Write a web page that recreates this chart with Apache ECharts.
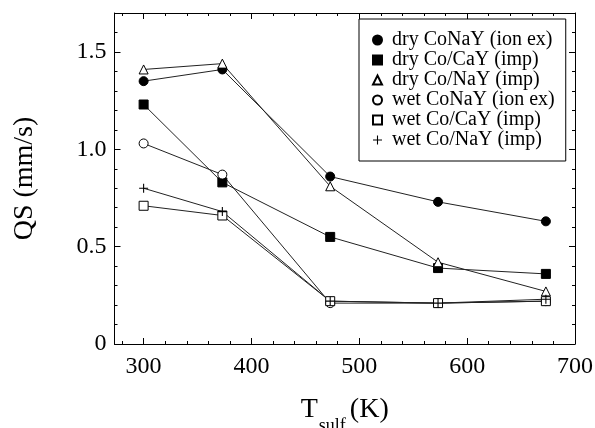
<!DOCTYPE html>
<html>
<head>
<meta charset="utf-8">
<script src="https://cdn.jsdelivr.net/npm/echarts@6/dist/echarts.min.js"></script>
<style>
html,body{margin:0;padding:0;background:#fff;}
#chart{width:595px;height:428px;}
</style>
</head>
<body>
<div id="chart"></div>
<script>
// Data
var temps = [300, 373, 473, 573, 673];
var dryCoNaYion = [1.35, 1.41, 0.86, 0.73, 0.63];
var dryCoCaYimp = [1.23, 0.83, 0.55, 0.39, 0.36];
var dryCoNaYimp = [1.41, 1.44, 0.81, 0.42, 0.27];
var wetCoNaYion = [1.03, 0.87, 0.21, 0.21, 0.22];
var wetCoCaYimp = [0.71, 0.66, 0.22, 0.21, 0.22];
var wetCoNaYimp = [0.80, 0.68, 0.22, 0.21, 0.23];
var seriesNames = ['dry CoNaY (ion ex)', 'dry Co/CaY (imp)', 'dry Co/NaY (imp)', 'wet CoNaY (ion ex)', 'wet Co/CaY (imp)', 'wet Co/NaY (imp)'];
var xTickLabels = [300, 400, 500, 600, 700];
var xMinorTicks = [280, 300, 320, 340, 360, 380, 400, 420, 440, 460, 480, 500, 520, 540, 560, 580, 600, 620, 640, 660, 680, 700];
var yTickLabels = [0, 0.5, 1.0, 1.5];
var yMinorTicks = [0.1, 0.2, 0.3, 0.4, 0.6, 0.7, 0.8, 0.9, 1.1, 1.2, 1.3, 1.4, 1.6];

var FONT = 'Liberation Serif';
var plusPath = 'path://M4.4,0H5.6V4.4H10V5.6H5.6V10H4.4V5.6H0V4.4H4.4Z';

var chart = echarts.init(document.getElementById('chart'), null, {renderer: 'canvas'});

var X_MIN = 273, X_MAX = 700, Y_MIN = 0, Y_MAX = 1.7;

function xAxisDef(pos, major, showLabel, showLine, name) {
  var a = {
    type: 'value', position: pos, min: X_MIN, max: X_MAX,
    axisLine: {show: showLine, onZero: false, lineStyle: {color: '#000', width: 1}},
    axisTick: {show: true, inside: true, length: major ? 6 : 3, customValues: major ? xTickLabels : xMinorTicks, lineStyle: {color: '#000', width: 1}},
    axisLabel: {show: showLabel, customValues: xTickLabels, fontFamily: FONT, fontSize: 24, color: '#000', margin: 11},
    splitLine: {show: false}
  };
  if (name) {
    a.name = '{t|T}{s|sulf}{t|(K)}';
    a.nameLocation = 'middle';
    a.nameGap = 50;
    a.nameTextStyle = {
      color: '#000', fontFamily: FONT,
      rich: {
        t: {fontFamily: FONT, fontSize: 28, color: '#000', verticalAlign: 'bottom', lineHeight: 30},
        s: {fontFamily: FONT, fontSize: 18, color: '#000', verticalAlign: 'bottom', lineHeight: 30, padding: [0, 4, -11, 1]}
      }
    };
  }
  return a;
}
function yAxisDef(pos, major, showLabel, showLine, name) {
  var a = {
    type: 'value', position: pos, min: Y_MIN, max: Y_MAX,
    axisLine: {show: showLine, onZero: false, lineStyle: {color: '#000', width: 1}},
    axisTick: {show: true, inside: true, length: major ? 6 : 3, customValues: major ? yTickLabels : yMinorTicks, lineStyle: {color: '#000', width: 1}},
    axisLabel: {show: showLabel, customValues: yTickLabels, fontFamily: FONT, fontSize: 24, color: '#000', margin: 8,
      formatter: function (v) { return v === 0 ? '0' : v.toFixed(1); }},
    splitLine: {show: false}
  };
  if (name) {
    a.name = 'QS (mm/s)';
    a.nameLocation = 'middle';
    a.nameGap = 76;
    a.nameRotate = 90;
    a.nameTextStyle = {fontFamily: FONT, fontSize: 28, color: '#000'};
  }
  return a;
}

function mkSeries(name, data, symbol, filled, size) {
  return {
    name: name, type: 'line', xAxisIndex: 0, yAxisIndex: 0,
    data: temps.map(function (t, i) { return [t, data[i]]; }),
    symbol: symbol, symbolSize: size, showSymbol: true,
    lineStyle: {color: '#222', width: 1},
    itemStyle: filled ? {color: '#000', borderColor: '#000', borderWidth: 1} : {color: '#fff', borderColor: '#000', borderWidth: 1},
    emphasis: {disabled: true},
    animation: false,
    z: 3
  };
}

var option = {
  backgroundColor: '#fff',
  animation: false,
  textStyle: {fontFamily: FONT, color: '#000'},
  grid: {left: 114.5, right: 20, top: 13, bottom: 84, containLabel: false, outerBoundsMode: 'none'},
  xAxis: [
    xAxisDef('bottom', true, true, true, true),
    xAxisDef('bottom', false, false, false, false),
    xAxisDef('top', true, false, true, false),
    xAxisDef('top', false, false, false, false)
  ],
  yAxis: [
    yAxisDef('left', true, true, true, true),
    yAxisDef('left', false, false, false, false),
    yAxisDef('right', true, false, true, false),
    yAxisDef('right', false, false, false, false)
  ],
  legend: {
    orient: 'vertical', left: 359, top: 19,
    padding: [11, 11, 11, 13],
    itemGap: 0, itemWidth: 9, itemHeight: 9,
    borderColor: '#000', borderWidth: 1, backgroundColor: '#fff',
    textStyle: {fontFamily: FONT, fontSize: 20, color: '#000', lineHeight: 20, padding: [0, 0, 0, 5]},
    selectedMode: false,
    data: [
      {name: seriesNames[0], icon: 'circle'},
      {name: seriesNames[1], icon: 'rect'},
      {name: seriesNames[2], icon: 'triangle'},
      {name: seriesNames[3], icon: 'circle'},
      {name: seriesNames[4], icon: 'rect'},
      {name: seriesNames[5], icon: plusPath}
    ]
  },
  series: [
    mkSeries(seriesNames[0], dryCoNaYion, 'circle', true, 9),
    mkSeries(seriesNames[1], dryCoCaYimp, 'rect', true, 9),
    mkSeries(seriesNames[2], dryCoNaYimp, 'triangle', false, 9),
    mkSeries(seriesNames[3], wetCoNaYion, 'circle', false, 9),
    mkSeries(seriesNames[4], wetCoCaYimp, 'rect', false, 9),
    mkSeries(seriesNames[5], wetCoNaYimp, plusPath, true, 9)
  ]
};
option.series[5].itemStyle = {color: '#000', borderWidth: 0};
chart.setOption(option);
</script>
</body>
</html>
